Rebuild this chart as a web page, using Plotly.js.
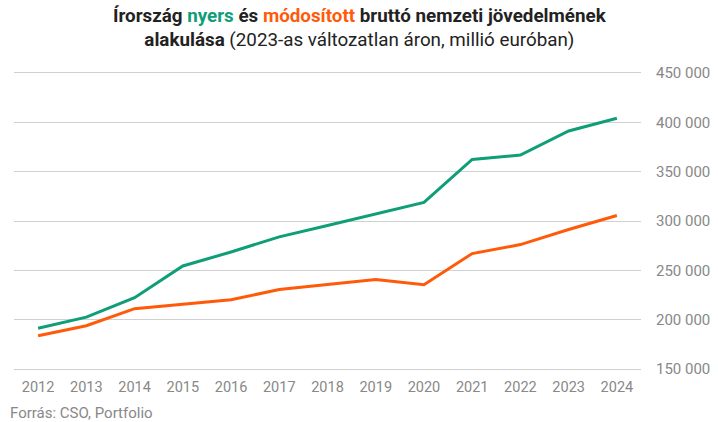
<!DOCTYPE html>
<html>
<head>
<meta charset="utf-8">
<script src="https://cdn.plot.ly/plotly-3.0.1.min.js"></script>
<style>html,body{margin:0;padding:0;background:#fff}#chart{width:718px;height:422px}</style>
</head>
<body>
<div id="chart"></div>
<script>
const years = [2012,2013,2014,2015,2016,2017,2018,2019,2020,2021,2022,2023,2024];
const nyers = [191400,202600,222300,254400,268600,283900,295400,306900,318800,362400,366800,391200,404100];
const modositott = [183800,193900,211200,215500,220300,230500,235500,240600,235500,267000,276100,291400,305600];
const yTicks = [150000,200000,250000,300000,350000,400000,450000];

const green = '#0f9e78';
const orange = '#ff5a0a';

const traces = [
  {x: years, y: nyers, type: 'scatter', mode: 'lines', name: 'nyers',
   line: {color: green, width: 3}},
  {x: years, y: modositott, type: 'scatter', mode: 'lines', name: 'módosított',
   line: {color: orange, width: 3}}
];

const layout = {
  width: 718, height: 422,
  margin: {l: 14, r: 77, t: 70, b: 50},
  paper_bgcolor: '#fff', plot_bgcolor: '#fff',
  showlegend: false,
  separators: ', ',
  font: {family: 'Roboto, sans-serif', color: '#888', size: 14.5},
  xaxis: {
    range: [2011.5, 2024.5], tickvals: years, showgrid: false, zeroline: false,
    showline: false, ticks: '', ticklabelstandoff: 4, tickfont: {size: 14.5, color: '#888'}
  },
  yaxis: {
    side: 'right', range: [147000, 453000], tickvals: yTicks, tickformat: ',d',
    gridcolor: '#d0d0d0', gridwidth: 1, zeroline: false, showline: false, ticks: '',
    ticklabelstandoff: 14, tickfont: {size: 15, color: '#888'}
  },
  annotations: [
    {xref: 'paper', yref: 'paper', x: 0.552, y: 1, yshift: 67, xanchor: 'center', yanchor: 'top',
     showarrow: false, align: 'center',
     font: {family: 'Roboto, sans-serif', size: 18.8, color: '#222'},
     text: "<b>Írország <span style='color:" + green + "'>nyers</span> és <span style='color:" + orange + "'>módosított</span> bruttó nemzeti jövedelmének</b><br><b>alakulása</b> (2023-as változatlan áron, millió euróban)"},
    {xref: 'paper', yref: 'paper', x: 0, xshift: -6, y: 0, yshift: -30, xanchor: 'left', yanchor: 'top',
     showarrow: false, font: {family: 'Roboto, sans-serif', size: 15, color: '#888'},
     text: 'Forrás: CSO, Portfolio'}
  ]
};

Plotly.newPlot('chart', traces, layout, {displayModeBar: false, staticPlot: true});
</script>
</body>
</html>
